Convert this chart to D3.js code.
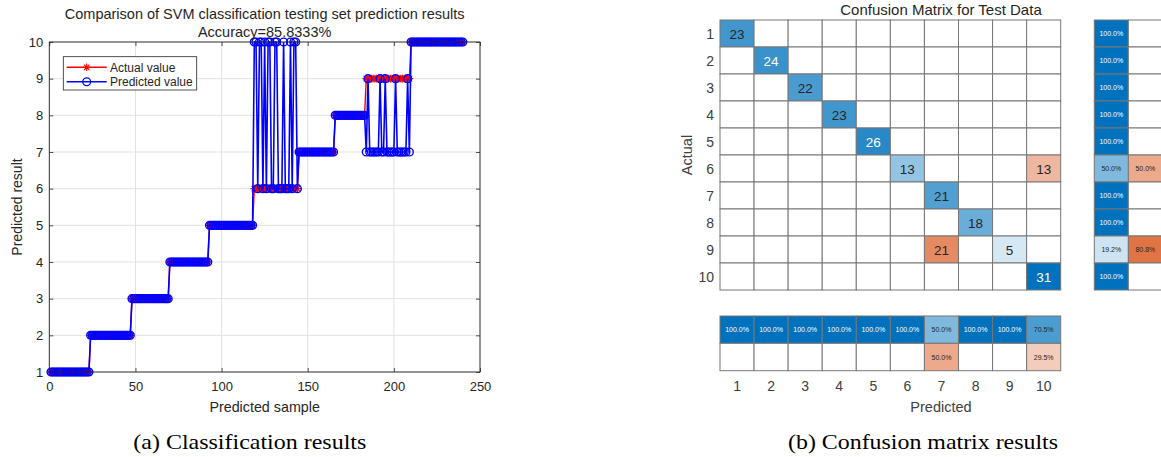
<!DOCTYPE html>
<html><head><meta charset="utf-8">
<script src="https://cdn.jsdelivr.net/npm/d3@7"></script>
<style>
body{margin:0;background:#fff}
svg{display:block}
text{font-family:"Liberation Sans",Arial,Helvetica,sans-serif}
.cap{font-family:"Liberation Serif","Times New Roman",serif}
</style>
</head><body>
<svg id="c" width="1161" height="457"></svg>
<script>
// ---------------- data ----------------
const actual = [
1,1,1,1,1,1,1,1,1,1, 1,1,1,1,1,1,1,1,1,1, 1,1,1,
2,2,2,2,2,2,2,2,2,2, 2,2,2,2,2,2,2,2,2,2, 2,2,2,2,
3,3,3,3,3,3,3,3,3,3, 3,3,3,3,3,3,3,3,3,3, 3,3,
4,4,4,4,4,4,4,4,4,4, 4,4,4,4,4,4,4,4,4,4, 4,4,4,
5,5,5,5,5,5,5,5,5,5, 5,5,5,5,5,5,5,5,5,5, 5,5,5,5,5,5,
6,6,6,6,6,6,6,6,6,6, 6,6,6,6,6,6,6,6,6,6, 6,6,6,6,6,6,
7,7,7,7,7,7,7,7,7,7, 7,7,7,7,7,7,7,7,7,7, 7,
8,8,8,8,8,8,8,8,8,8, 8,8,8,8,8,8,8,8,
9,9,9,9,9,9,9,9,9,9, 9,9,9,9,9,9,9,9,9,9, 9,9,9,9,9,9,
10,10,10,10,10,10,10,10,10,10, 10,10,10,10,10,10,10,10,10,10, 10,10,10,10,10,10,10,10,10,10, 10
];
const predicted = [
1,1,1,1,1,1,1,1,1,1, 1,1,1,1,1,1,1,1,1,1, 1,1,1,
2,2,2,2,2,2,2,2,2,2, 2,2,2,2,2,2,2,2,2,2, 2,2,2,2,
3,3,3,3,3,3,3,3,3,3, 3,3,3,3,3,3,3,3,3,3, 3,3,
4,4,4,4,4,4,4,4,4,4, 4,4,4,4,4,4,4,4,4,4, 4,4,4,
5,5,5,5,5,5,5,5,5,5, 5,5,5,5,5,5,5,5,5,5, 5,5,5,5,5,5,
10,10,6,10,10,6,10,6,10,10, 6,6,10,10,6,6,6,10,6,6, 6,10,6,10,10,6,
7,7,7,7,7,7,7,7,7,7, 7,7,7,7,7,7,7,7,7,7, 7,
8,8,8,8,8,8,8,8,8,8, 8,8,8,8,8,8,8,8,
7,9,7,7,7,7,7,7,9,7, 7,9,7,7,7,7,7,9,7,7, 7,7,7,7,9,7,
10,10,10,10,10,10,10,10,10,10, 10,10,10,10,10,10,10,10,10,10, 10,10,10,10,10,10,10,10,10,10, 10
];
const xTicks = [0, 50, 100, 150, 200, 250];
const yTicks = [1, 2, 3, 4, 5, 6, 7, 8, 9, 10];
const seriesNames = ["Actual value", "Predicted value"];
const leftTitle = ["Comparison of SVM classification testing set prediction results", "Accuracy=85.8333%"];

const classes = ["1","2","3","4","5","6","7","8","9","10"];
const confusion = [
[23,0,0,0,0,0,0,0,0,0],
[0,24,0,0,0,0,0,0,0,0],
[0,0,22,0,0,0,0,0,0,0],
[0,0,0,23,0,0,0,0,0,0],
[0,0,0,0,26,0,0,0,0,0],
[0,0,0,0,0,13,0,0,0,13],
[0,0,0,0,0,0,21,0,0,0],
[0,0,0,0,0,0,0,18,0,0],
[0,0,0,0,0,0,21,0,5,0],
[0,0,0,0,0,0,0,0,0,31]
];
const rowCorrectPct = [100,100,100,100,100,50,100,100,19.2,100];
const rowWrongPct   = [0,0,0,0,0,50,0,0,80.8,0];
const colCorrectPct = [100,100,100,100,100,100,50,100,100,70.5];
const colWrongPct   = [0,0,0,0,0,0,50,0,0,29.5];

// ---------------- drawing ----------------
const svg = d3.select("#c");
const ink = "#262626";

// ===== Left chart =====
const L = {x0: 49.3, x1: 480, y0: 42, y1: 372};
const x = d3.scaleLinear().domain([0, 250]).range([L.x0, L.x1]);
const y = d3.scaleLinear().domain([1, 10]).range([L.y1, L.y0]);
const lg = svg.append("g");

lg.append("rect").attr("x", L.x0).attr("y", L.y0).attr("width", L.x1 - L.x0).attr("height", L.y1 - L.y0).attr("fill", "#fff");
lg.selectAll(".gx").data(xTicks).enter().append("line")
  .attr("x1", d => x(d)).attr("x2", d => x(d)).attr("y1", L.y0).attr("y2", L.y1)
  .attr("stroke", "#e1e1e1").attr("stroke-width", 1);
lg.selectAll(".gy").data(yTicks).enter().append("line")
  .attr("y1", d => y(d)).attr("y2", d => y(d)).attr("x1", L.x0).attr("x2", L.x1)
  .attr("stroke", "#e1e1e1").attr("stroke-width", 1);

function styleAxis(sel) {
  sel.select(".domain").remove();
  sel.selectAll(".tick line").attr("stroke", ink).attr("stroke-width", 0.8);
  sel.selectAll(".tick text").attr("fill", ink).style("font-size", "13px")
     .style("font-family", '"Liberation Sans",Arial,sans-serif');
}
lg.append("g").attr("transform", `translate(0,${L.y1})`)
  .call(d3.axisBottom(x).tickValues(xTicks).tickSizeInner(-4).tickSizeOuter(0).tickPadding(10)).call(styleAxis);
lg.append("g").attr("transform", `translate(0,${L.y0})`)
  .call(d3.axisTop(x).tickValues(xTicks).tickSizeInner(-4).tickSizeOuter(0).tickFormat("")).call(styleAxis);
lg.append("g").attr("transform", `translate(${L.x0},0)`)
  .call(d3.axisLeft(y).tickValues(yTicks).tickSizeInner(-4).tickSizeOuter(0).tickPadding(6)).call(styleAxis);
lg.append("g").attr("transform", `translate(${L.x1},0)`)
  .call(d3.axisRight(y).tickValues(yTicks).tickSizeInner(-4).tickSizeOuter(0).tickFormat("")).call(styleAxis);

const line = d3.line().x((d, i) => x(i + 1)).y(d => y(d));
const starPath = r => {
  const a = r * 0.707;
  return `M${-r},0L${r},0M0,${-r}L0,${r}M${-a},${-a}L${a},${a}M${-a},${a}L${a},${-a}`;
};
const plot = lg.append("g");
// actual (red, stars)
plot.append("path").datum(actual).attr("d", line).attr("fill", "none").attr("stroke", "#ff0000").attr("stroke-width", 1.4);
plot.selectAll(".st").data(actual).enter().append("path")
  .attr("transform", (d, i) => `translate(${x(i + 1)},${y(d)})`)
  .attr("d", starPath(3.8)).attr("stroke", "#ff0000").attr("stroke-width", 1.1).attr("fill", "none");
// predicted (blue, circles)
plot.append("path").datum(predicted).attr("d", line).attr("fill", "none").attr("stroke", "#0000ff").attr("stroke-width", 1.6);
plot.selectAll(".ci").data(predicted).enter().append("circle")
  .attr("cx", (d, i) => x(i + 1)).attr("cy", d => y(d)).attr("r", 3.9)
  .attr("fill", "none").attr("stroke", "#0000ff").attr("stroke-width", 1.4);

// axes box
lg.append("rect").attr("x", L.x0).attr("y", L.y0).attr("width", L.x1 - L.x0).attr("height", L.y1 - L.y0)
  .attr("fill", "none").attr("stroke", ink).attr("stroke-width", 0.9);

// legend
const leg = lg.append("g");
leg.append("rect").attr("x", 63.3).attr("y", 56.7).attr("width", 133.4).attr("height", 33.3)
  .attr("fill", "#fff").attr("stroke", ink).attr("stroke-width", 0.8);
const legY = [67.3, 81.7];
const legCol = ["#ff0000", "#0000ff"];
seriesNames.forEach((name, k) => {
  leg.append("line").attr("x1", 66.7).attr("x2", 106.7).attr("y1", legY[k]).attr("y2", legY[k])
    .attr("stroke", legCol[k]).attr("stroke-width", k ? 1.6 : 1.4);
  if (k === 0) {
    leg.append("path").attr("transform", `translate(86.7,${legY[k]})`).attr("d", starPath(3.8))
      .attr("stroke", legCol[k]).attr("stroke-width", 1.1).attr("fill", "none");
  } else {
    leg.append("circle").attr("cx", 86.7).attr("cy", legY[k]).attr("r", 3.9)
      .attr("fill", "none").attr("stroke", legCol[k]).attr("stroke-width", 1.3);
  }
  leg.append("text").attr("x", 110).attr("y", legY[k] + 4.3).text(name)
    .style("font-size", "12px").attr("fill", ink);
});

// titles & labels
const cxL = (L.x0 + L.x1) / 2;
lg.append("text").attr("x", cxL).attr("y", 18.5).attr("text-anchor", "middle").style("font-size", "14.5px").attr("fill", ink).text(leftTitle[0]);
lg.append("text").attr("x", cxL).attr("y", 36.5).attr("text-anchor", "middle").style("font-size", "14.5px").attr("fill", ink).text(leftTitle[1]);
lg.append("text").attr("x", cxL).attr("y", 411.5).attr("text-anchor", "middle").style("font-size", "14.3px").attr("fill", ink).text("Predicted sample");
lg.append("text").attr("transform", `translate(21.5,${(L.y0 + L.y1) / 2}) rotate(-90)`).attr("text-anchor", "middle")
  .style("font-size", "14px").attr("fill", ink).text("Predicted result");

// ===== Confusion matrix =====
const cg = svg.append("g");
const bx = d3.scaleBand().domain(classes).range([720, 1060.7]);
const by = d3.scaleBand().domain(classes).range([20, 290]);
const maxV = d3.max(confusion.flat());
const blue = d3.interpolateRgb("#ffffff", "#0072bd");
const orange = d3.interpolateRgb("#ffffff", "#d95319");
const gridStroke = "#777777";
function lum(c) {
  const r = d3.rgb(c);
  const f = v => { v /= 255; return v <= 0.04045 ? v / 12.92 : Math.pow((v + 0.055) / 1.055, 2.4); };
  return 0.2126 * f(r.r) + 0.7152 * f(r.g) + 0.0722 * f(r.b);
}
const txtCol = c => lum(c) < 0.266 ? "#ffffff" : ink;

const cells = [];
confusion.forEach((row, i) => row.forEach((v, j) => cells.push({i, j, v})));
const cellG = cg.selectAll(".cell").data(cells).enter().append("g");
cellG.append("rect")
  .attr("x", d => bx(classes[d.j])).attr("y", d => by(classes[d.i]))
  .attr("width", bx.bandwidth()).attr("height", by.bandwidth())
  .attr("fill", d => d.v === 0 ? "#fff" : (d.i === d.j ? blue(d.v / maxV) : orange(d.v / maxV)))
  .attr("stroke", gridStroke).attr("stroke-width", 1);
cellG.filter(d => d.v > 0).append("text")
  .attr("x", d => bx(classes[d.j]) + bx.bandwidth() / 2).attr("y", d => by(classes[d.i]) + by.bandwidth() / 2 + 5)
  .attr("text-anchor", "middle").style("font-size", "13.5px")
  .attr("fill", d => txtCol(d.i === d.j ? blue(d.v / maxV) : orange(d.v / maxV)))
  .text(d => d.v);

// row summary
const rsx = d3.scaleBand().domain(["c", "w"]).range([1094.3, 1162.4]);
const rowCells = [];
classes.forEach((c, i) => {
  rowCells.push({i, k: "c", p: rowCorrectPct[i]});
  rowCells.push({i, k: "w", p: rowWrongPct[i]});
});
const pctFill = d => d.p === 0 ? "#fff" : (d.k === "c" ? blue(d.p / 100) : orange(d.p / 100));
const rg = cg.selectAll(".rs").data(rowCells).enter().append("g");
rg.append("rect").attr("x", d => rsx(d.k)).attr("y", d => by(classes[d.i]))
  .attr("width", rsx.bandwidth()).attr("height", by.bandwidth())
  .attr("fill", pctFill).attr("stroke", gridStroke).attr("stroke-width", 1);
rg.filter(d => d.p > 0).append("text")
  .attr("x", d => rsx(d.k) + rsx.bandwidth() / 2).attr("y", d => by(classes[d.i]) + by.bandwidth() / 2 + 2.5)
  .attr("text-anchor", "middle").style("font-size", "7px").attr("fill", d => txtCol(pctFill(d)))
  .text(d => d.p.toFixed(1) + "%");

// column summary
const csy = d3.scaleBand().domain(["c", "w"]).range([316, 370.7]);
const colCells = [];
classes.forEach((c, j) => {
  colCells.push({j, k: "c", p: colCorrectPct[j]});
  colCells.push({j, k: "w", p: colWrongPct[j]});
});
const cgs = cg.selectAll(".cs").data(colCells).enter().append("g");
cgs.append("rect").attr("x", d => bx(classes[d.j])).attr("y", d => csy(d.k))
  .attr("width", bx.bandwidth()).attr("height", csy.bandwidth())
  .attr("fill", pctFill).attr("stroke", gridStroke).attr("stroke-width", 1);
cgs.filter(d => d.p > 0).append("text")
  .attr("x", d => bx(classes[d.j]) + bx.bandwidth() / 2).attr("y", d => csy(d.k) + csy.bandwidth() / 2 + 2.5)
  .attr("text-anchor", "middle").style("font-size", "7px").attr("fill", d => txtCol(pctFill(d)))
  .text(d => d.p.toFixed(1) + "%");

// tick labels
const tickCol = "#404040";
cg.selectAll(".yt").data(classes).enter().append("text")
  .attr("x", 714).attr("y", d => by(d) + by.bandwidth() / 2 + 5)
  .attr("text-anchor", "end").style("font-size", "14px").attr("fill", tickCol).text(d => d);
cg.selectAll(".xt").data(classes).enter().append("text")
  .attr("x", d => bx(d) + bx.bandwidth() / 2).attr("y", 391)
  .attr("text-anchor", "middle").style("font-size", "14px").attr("fill", tickCol).text(d => d);
cg.append("text").attr("x", 941).attr("y", 411.5).attr("text-anchor", "middle")
  .style("font-size", "14.5px").attr("fill", tickCol).text("Predicted");
cg.append("text").attr("transform", "translate(692,155) rotate(-90)").attr("text-anchor", "middle")
  .style("font-size", "14.5px").attr("fill", tickCol).text("Actual");
cg.append("text").attr("x", 941).attr("y", 15).attr("text-anchor", "middle")
  .style("font-size", "15px").attr("fill", ink).text("Confusion Matrix for Test Data");

// captions
svg.append("text").attr("class", "cap").attr("x", 133.3).attr("y", 449).attr("textLength", 233).attr("lengthAdjust", "spacingAndGlyphs")
  .style("font-size", "21px").attr("fill", "#000").text("(a) Classification results");
svg.append("text").attr("class", "cap").attr("x", 788).attr("y", 449).attr("textLength", 270).attr("lengthAdjust", "spacingAndGlyphs")
  .style("font-size", "21px").attr("fill", "#000").text("(b) Confusion matrix results");
</script>
</body></html>
